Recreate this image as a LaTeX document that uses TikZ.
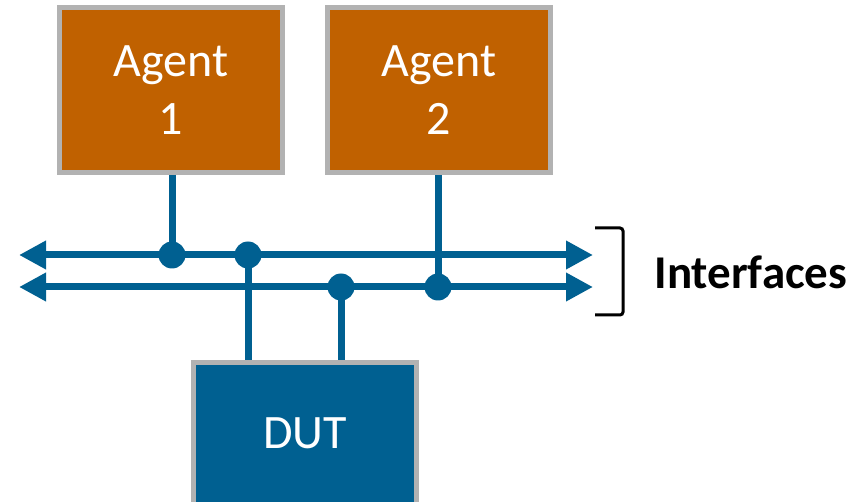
\documentclass[tikz,border=0pt]{standalone}
\usepackage{fontspec}
\setmainfont{Carlito}
\usetikzlibrary{arrows.meta}
\definecolor{agentfill}{RGB}{192,97,0}
\definecolor{dutfill}{RGB}{0,96,145}
\definecolor{boxedge}{RGB}{178,178,178}
\definecolor{busblue}{RGB}{0,96,145}
\tikzset{
  agentbox/.style={draw=boxedge, line width=5pt, fill=agentfill, text=white,
    minimum width=223pt, minimum height=165pt, inner sep=0pt, align=center,
    font=\fontsize{48}{58}\selectfont},
  dutbox/.style={draw=boxedge, line width=5pt, fill=dutfill, text=white,
    minimum width=223pt, minimum height=150pt, inner sep=0pt},
  bus/.style={draw=busblue, line width=7pt,
    {Triangle[length=27pt,width=27pt]}-{Triangle[length=27pt,width=27pt]}},
  tap/.style={draw=busblue, line width=7pt},
  joint/.style={circle, fill=busblue, inner sep=0pt, minimum size=27pt},
}
\begin{document}
\begin{tikzpicture}[x=1pt, y=-1pt]
  \clip (0,0) rectangle (864,502);

  % agents and device under test
  \node[agentbox] (a1) at (171,90) {Agent\\1};
  \node[agentbox] (a2) at (439,90) {Agent\\2};
  \node[dutbox, anchor=north] (dut) at (305,360) {};
  \node[text=white, font=\fontsize{48}{58}\selectfont] (dutlabel) at (305,433) {DUT};

  % bus end points
  \coordinate (b1l) at (19,255);
  \coordinate (b1r) at (593,255);
  \coordinate (b2l) at (19,287);
  \coordinate (b2r) at (593,287);

  % junction positions
  \coordinate (j1) at (172,255);
  \coordinate (j2) at (248,255);
  \coordinate (j3) at (341,287);
  \coordinate (j4) at (438,287);

  % taps from the blocks to the interfaces
  \draw[tap] (a1.south -| j1) -- (j1);
  \draw[tap] (a2.south -| j4) -- (j4);
  \draw[tap] (j2) -- (j2 |- dut.north);
  \draw[tap] (j3) -- (j3 |- dut.north);

  % the two interfaces
  \draw[bus] (b1l) -- (b1r);
  \draw[bus] (b2l) -- (b2r);

  % junction dots
  \node[joint] (d1) at (j1) {};
  \node[joint] (d2) at (j2) {};
  \node[joint] (d3) at (j3) {};
  \node[joint] (d4) at (j4) {};

  % bracket and label
  \coordinate (brt) at (595,228);
  \coordinate (brb) at (595,315);
  \draw[line width=3pt, rounded corners=3pt] (brt) -- ++(28,0) -- ++(0,87) -- (brb);
  \node[anchor=base west, font=\fontsize{47}{56}\selectfont\bfseries] (iflabel) at (651,289) {Interfaces};
\end{tikzpicture}
\end{document}
